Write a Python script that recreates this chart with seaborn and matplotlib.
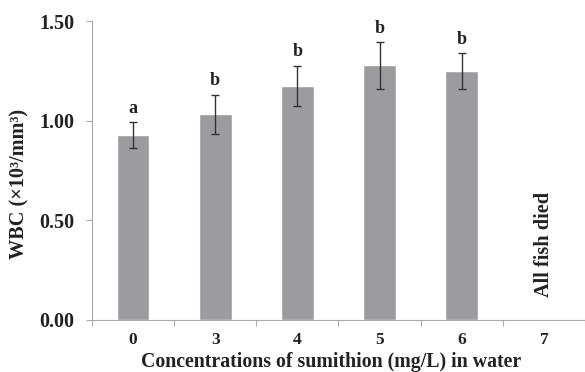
import matplotlib
matplotlib.use("Agg")
import matplotlib.pyplot as plt
import numpy as np
import pandas as pd
import seaborn as sns

#%% data

conc = ['0', '3', '4', '5', '6', '7']
wbc = [0.926, 1.031, 1.176, 1.277, 1.249, np.nan]
sd = [0.065, 0.099, 0.100, 0.116, 0.091, np.nan]
letters = ['a', 'b', 'b', 'b', 'b', '']
note = 'All fish died'

data = pd.DataFrame({'conc': conc, 'wbc': wbc, 'sd': sd, 'letter': letters})

#%% plot

sns.set_style('white')
plt.rcParams['font.family'] = ['Liberation Serif', 'DejaVu Serif']
plt.rcParams['font.weight'] = 'bold'

fig = plt.figure(figsize=(5.85, 3.72), dpi=100)
ax = fig.add_axes([0.157, 0.140, 0.843, 0.8035])

sns.barplot(data=data, x='conc', y='wbc', order=conc, color='#9c9ca0',
            width=0.4, saturation=1, errorbar=None, ax=ax)

pos = np.arange(len(conc))
ax.errorbar(pos, data['wbc'], yerr=data['sd'], fmt='none', ecolor='#333333',
            elinewidth=1, capsize=3, capthick=1)

# significance letters
for i, row in data.iterrows():
    if row['letter']:
        ax.text(i, row['wbc'] + row['sd'] + 0.027, row['letter'], ha='center',
                va='bottom', fontsize=13, fontweight='bold', color='#222222')

# dead group
ax.text(5, 0.115, note, rotation=90, ha='center', va='bottom', fontsize=14.6,
        fontweight='bold', color='#222222')

ax.set_xlim(-0.5, 5.5)
ax.set_ylim(0, 1.5)
ax.set_yticks([0, 0.5, 1.0, 1.5])
ax.set_yticklabels(['0.00', '0.50', '1.00', '1.50'])
ax.set_xticks(pos, minor=False)
ax.set_xticklabels(conc)
ax.set_xticks(np.arange(-0.5, 6.0, 1.0), minor=True)

ax.tick_params(axis='y', which='major', left=True, length=4.5, width=0.8,
               color='#aaaaaa', labelsize=14.5, pad=8, labelcolor='#222222')
ax.tick_params(axis='x', which='major', bottom=False, length=0, labelsize=12.5,
               pad=9, labelcolor='#222222')
ax.tick_params(axis='x', which='minor', bottom=True, length=4, width=0.8,
               color='#aaaaaa')

for side in ['top', 'right']:
    ax.spines[side].set_visible(False)
for side in ['left', 'bottom']:
    ax.spines[side].set_color('#aaaaaa')
    ax.spines[side].set_linewidth(0.8)

ax.set_xlabel('Concentrations of sumithion (mg/L) in water', fontsize=14.3,
              fontweight='bold', color='#222222')
ax.xaxis.set_label_coords(0.486, -0.106)
ax.set_ylabel('WBC (×10³/mm³)', fontsize=14.6, fontweight='bold',
              color='#222222')
ax.yaxis.set_label_coords(-0.126, 0.455)

fig.savefig('out.png', dpi=100)
